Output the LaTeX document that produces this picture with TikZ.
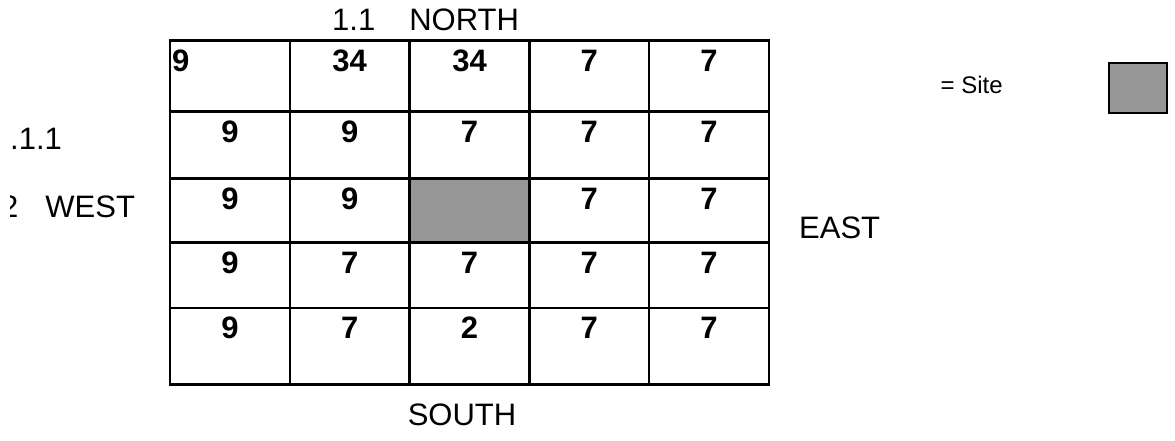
\documentclass[tikz,border=0pt]{standalone}
\usepackage{fontspec}
\setmainfont{Liberation Sans}
\usetikzlibrary{positioning}
\definecolor{sitegray}{RGB}{150,150,150}

\begin{document}
\begin{tikzpicture}[x=1pt,y=-1pt,
  lbl/.style={inner sep=0pt,font=\fontsize{31}{36}\selectfont},
  num/.style={inner sep=0pt,anchor=north,font=\fontsize{31}{36}\selectfont\bfseries},
  gridline/.style={line width=2.4pt}]
\useasboundingbox (0,0) rectangle (1175,441);
% site cell and table
\fill[sitegray] (409.6,178.3) rectangle (529.4,242.3);
\draw[gridline] (170,40.7) rectangle (769,384.3);
\foreach \x in {289.8,409.6,529.4,649.2} \draw[gridline] (\x,40.7) -- (\x,384.3);
\foreach \y in {111.7,178.3,242.3,307.7} \draw[gridline] (170,\y) -- (769,\y);
% values
\node[num,anchor=north west] (n11) at (172,50) {9};
\foreach \c/\v in {2/34,3/34,4/7,5/7}
  \node[num] (n1\c) at ({170+119.8*(\c-0.5)},50) {\v};
\foreach \r/\ty/\cells in {
  2/111.7/{1/9,2/9,3/7,4/7,5/7},
  3/178.3/{1/9,2/9,4/7,5/7},
  4/242.3/{1/9,2/7,3/7,4/7,5/7},
  5/307.7/{1/9,2/7,3/2,4/7,5/7}}
  \foreach \c/\v in \cells
    \node[num] (n\r\c) at ({170+119.8*(\c-0.5)},\ty+9.3) {\v};
% compass labels
\node[lbl,anchor=west] (north) at (332,19.7) {1.1\hspace{34pt}NORTH};
\node[lbl] (south) at (462,415) {SOUTH};
\node[lbl,anchor=west] (east) at (799,228) {EAST};
\node[lbl,anchor=west] (sec) at (10,139) {.1.1};
\begin{scope}
  \clip (10,0) rectangle (300,441);
  \node[lbl,anchor=west] (west) at (1,207) {2\hspace{27pt}WEST};
\end{scope}
% legend
\node[inner sep=0pt,anchor=west,font=\fontsize{24}{28}\selectfont] (sitelbl) at (940.5,85) {= Site};
\draw[line width=2.6pt,fill=sitegray] (1109,63) rectangle (1167,113);
\end{tikzpicture}
\end{document}
